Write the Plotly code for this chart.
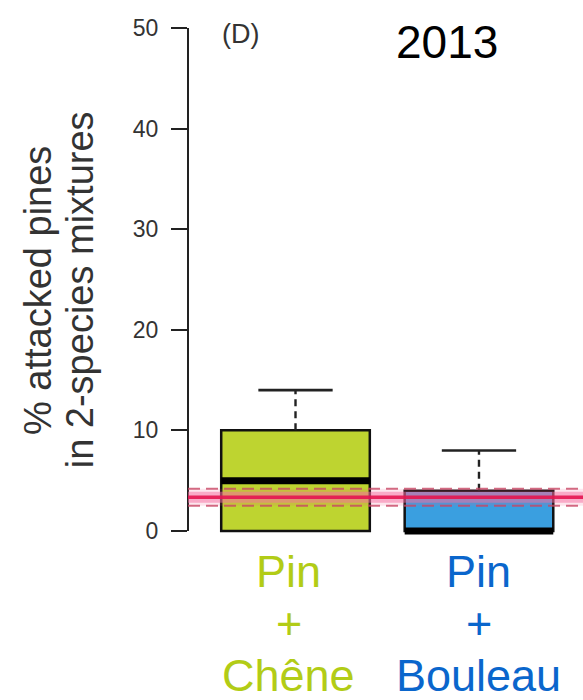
import plotly.graph_objects as go

# ---- data ----
categories = ["Pin + Chêne", "Pin + Bouleau"]
label_lines = [["Pin", "+", "Chêne"], ["Pin", "+", "Bouleau"]]
q1 = [0, 0]
median = [5, 0]
q3 = [10, 4]
whisker_low = [0, 0]
whisker_high = [14, 8]
ref_mean = 3.35
ref_low = 2.5
ref_high = 4.2
y_ticks = [0, 10, 20, 30, 40, 50]

box_fill = ["#bed430", "#3a9fe0"]
label_col = ["#b2cc16", "#0a66cc"]
xpos = [1, 2]
BW = 0.81

fig = go.Figure()

for i in range(2):
    fig.add_trace(go.Box(
        x=[xpos[i]], q1=[q1[i]], median=[median[i]], q3=[q3[i]],
        lowerfence=[q1[i]], upperfence=[q3[i]],
        width=BW, fillcolor=box_fill[i],
        line=dict(color="#111111", width=2.5),
        boxpoints=False, hoverinfo="skip", showlegend=False))
    # thick median
    fig.add_trace(go.Scatter(
        x=[xpos[i] - BW / 2, xpos[i] + BW / 2], y=[median[i], median[i]],
        mode="lines", line=dict(color="#000000", width=7),
        cliponaxis=False, hoverinfo="skip", showlegend=False))
    # dashed upper whisker
    fig.add_trace(go.Scatter(
        x=[xpos[i], xpos[i]], y=[q3[i], whisker_high[i]],
        mode="lines", line=dict(color="#222222", width=2.4, dash="7px,5px"),
        hoverinfo="skip", showlegend=False))
    # cap
    fig.add_trace(go.Scatter(
        x=[xpos[i] - BW / 4, xpos[i] + BW / 4], y=[whisker_high[i], whisker_high[i]],
        mode="lines", line=dict(color="#222222", width=2.6),
        hoverinfo="skip", showlegend=False))

shapes = [
    # y axis line (R style, spans data range only)
    dict(type="line", xref="paper", x0=0, x1=0, yref="y", y0=0, y1=50,
         line=dict(color="#222222", width=2), layer="above"),
    # translucent band between CI lines
    dict(type="rect", xref="paper", x0=0, x1=1, yref="y", y0=ref_low, y1=ref_high,
         fillcolor="rgba(240,90,140,0.15)", line=dict(width=0), layer="above"),
    # pink glow around mean line
    dict(type="line", xref="paper", x0=0, x1=1, yref="y", y0=ref_mean, y1=ref_mean,
         line=dict(color="rgba(245,110,160,0.5)", width=11), layer="above"),
    dict(type="line", xref="paper", x0=0, x1=1, yref="y", y0=ref_mean, y1=ref_mean,
         line=dict(color="rgba(228,20,80,0.9)", width=3.5), layer="above"),
    dict(type="line", xref="paper", x0=0, x1=1, yref="y", y0=ref_low, y1=ref_low,
         line=dict(color="rgba(200,70,100,0.8)", width=2, dash="12px,6px"), layer="above"),
    dict(type="line", xref="paper", x0=0, x1=1, yref="y", y0=ref_high, y1=ref_high,
         line=dict(color="rgba(200,70,100,0.8)", width=2, dash="12px,6px"), layer="above"),
]

ann = []
font_main = "Liberation Sans, Arial, sans-serif"
# y-axis title (two lines)
ann.append(dict(text="% attacked pines", xref="paper", yref="paper", x=-0.38, y=0.489,
                textangle=-90, showarrow=False, xanchor="center", yanchor="middle",
                font=dict(family=font_main, size=38, color="#333333")))
ann.append(dict(text="in 2-species mixtures", xref="paper", yref="paper", x=-0.273, y=0.489,
                textangle=-90, showarrow=False, xanchor="center", yanchor="middle",
                font=dict(family=font_main, size=38, color="#333333")))
# panel label and year
ann.append(dict(text="(D)", xref="paper", yref="paper", x=0.134, y=0.988,
                showarrow=False, xanchor="center", yanchor="middle",
                font=dict(family=font_main, size=27, color="#333333")))
ann.append(dict(text="2013", xref="paper", yref="paper", x=0.656, y=0.973,
                showarrow=False, xanchor="center", yanchor="middle",
                font=dict(family=font_main, size=46, color="#000000")))
# category labels
shifts = [-30, -82, -134]
xsh = [-7, 0]
for i in range(2):
    for j, t in enumerate(label_lines[i]):
        ann.append(dict(text=t, xref="x", yref="paper", x=xpos[i], y=0,
                        xshift=xsh[i], yshift=shifts[j],
                        showarrow=False, xanchor="center", yanchor="middle",
                        font=dict(family=font_main, size=45, color=label_col[i])))

fig.update_layout(
    width=583, height=700,
    margin=dict(l=188, r=0, t=28, b=159),
    paper_bgcolor="white", plot_bgcolor="white",
    shapes=shapes, annotations=ann,
    xaxis=dict(range=[0.414, 2.567], showgrid=False, zeroline=False,
               showticklabels=False, ticks="", showline=False),
    yaxis=dict(range=[-1, 50], tickvals=y_ticks, ticktext=[str(v) for v in y_ticks],
               showgrid=False, zeroline=False, showline=False,
               ticks="outside", ticklen=16, tickwidth=2, tickcolor="#222222",
               ticklabelstandoff=8,
               tickfont=dict(family=font_main, size=23, color="#333333")),
)

fig.write_html("out.html")
